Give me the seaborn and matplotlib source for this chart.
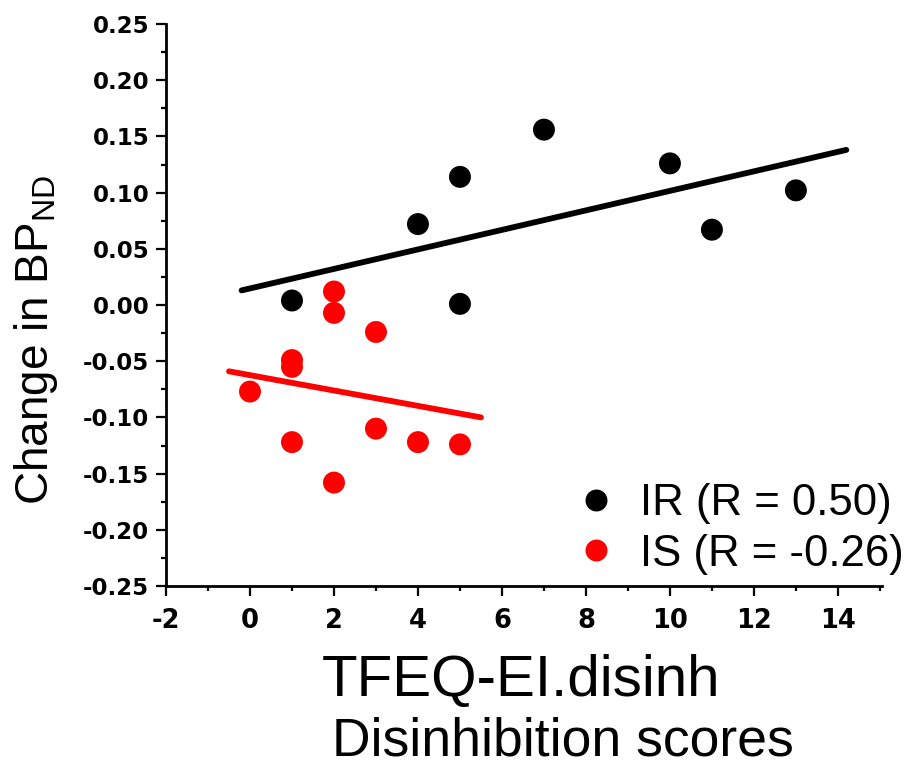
import numpy as np
import pandas as pd
import matplotlib
matplotlib.use('Agg')
import matplotlib.pyplot as plt
from matplotlib.ticker import MultipleLocator
import seaborn as sns

# data
ir_x = [1, 4, 5, 5, 7, 10, 11, 13]
ir_y = [0.004, 0.072, 0.114, 0.001, 0.156, 0.126, 0.067, 0.102]
is_x = [0, 1, 1, 1, 2, 2, 2, 3, 3, 4, 5]
is_y = [-0.077, -0.049, -0.055, -0.122, 0.012, -0.007, -0.158, -0.024, -0.110, -0.122, -0.124]

# fitted lines (end points)
ir_fit_x = [-0.2, 14.2]
ir_fit_y = [0.013, 0.138]
is_fit_x = [-0.5, 5.5]
is_fit_y = [-0.059, -0.100]

y_ticks = [-0.25, -0.20, -0.15, -0.10, -0.05, 0.00, 0.05, 0.10, 0.15, 0.20, 0.25]

ir_label = 'IR (R = 0.50)'
is_label = 'IS (R = -0.26)'

sns.set_style('ticks')
plt.rcParams['font.family'] = ['Liberation Sans', 'DejaVu Sans']
plt.rcParams['mathtext.fontset'] = 'custom'
plt.rcParams['mathtext.rm'] = 'Liberation Sans'
plt.rcParams['axes.unicode_minus'] = False
for k in ['text.color', 'axes.labelcolor', 'xtick.color', 'ytick.color', 'axes.edgecolor']:
    plt.rcParams[k] = 'black'

df = pd.DataFrame({
    'x': ir_x + is_x,
    'y': ir_y + is_y,
    'group': [ir_label] * len(ir_x) + [is_label] * len(is_x),
})

fig = plt.figure(figsize=(9.18, 7.66), dpi=100)
ax = fig.add_axes([166 / 918, 1 - 586 / 766, (882 - 166) / 918, (586 - 24) / 766])

sns.lineplot(x=ir_fit_x, y=ir_fit_y, ax=ax, color='black', lw=4.2, legend=False)
sns.lineplot(x=is_fit_x, y=is_fit_y, ax=ax, color='red', lw=4.2, legend=False)
sns.scatterplot(data=df, x='x', y='y', hue='group',
                palette={ir_label: 'black', is_label: 'red'},
                s=250, edgecolor='none', ax=ax, zorder=3)

ax.set_xlim(-2, 15.05)
ax.set_ylim(-0.25, 0.25)
ax.xaxis.set_major_locator(MultipleLocator(2))
ax.xaxis.set_minor_locator(MultipleLocator(1))
ax.set_yticks(y_ticks)
ax.set_yticklabels([f'{v:.2f}' for v in y_ticks])
ax.yaxis.set_minor_locator(MultipleLocator(0.025))

sns.despine(ax=ax)
for s in ['left', 'bottom']:
    ax.spines[s].set_linewidth(2)
ax.tick_params(which='major', direction='out', length=7, width=1.6, pad=5)
ax.tick_params(which='minor', direction='out', length=3.5, width=1.6)
ax.tick_params(axis='x', which='major', pad=8.5)
for lab in ax.get_yticklabels():
    lab.set_fontfamily('DejaVu Sans')
    lab.set_fontweight('bold')
    lab.set_fontsize(16.5)
for lab in ax.get_xticklabels():
    lab.set_fontfamily('DejaVu Sans')
    lab.set_fontweight('bold')
    lab.set_fontsize(18.5)

ax.set_xlabel('')
ax.set_ylabel('')
fig.text(36 / 918, 1 - 340 / 766, r'Change in BP$_{\mathrm{ND}}$', rotation=90,
         ha='center', va='center', fontsize=33)
fig.text(521 / 918, 1 - 681 / 766, 'TFEQ-EI.disinh', ha='center', va='center', fontsize=42)
fig.text(563 / 918, 1 - 742 / 766, 'Disinhibition scores', ha='center', va='center', fontsize=38.5)

leg = ax.legend(loc='upper left', bbox_to_anchor=(574 / 918, 1 - 483 / 766),
                bbox_transform=fig.transFigure, frameon=False, fontsize=31.5,
                borderpad=0, borderaxespad=0, handlelength=1.0, handletextpad=0.5,
                labelspacing=0.22, markerscale=1.0)

plt.savefig('out.png', dpi=100)
